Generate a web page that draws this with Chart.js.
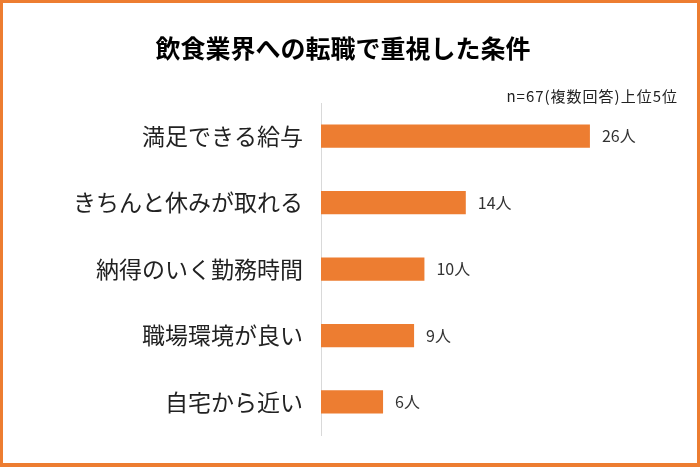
<!DOCTYPE html>
<html><head><meta charset="utf-8">
<script src="https://cdn.jsdelivr.net/npm/chart.js@4/dist/chart.umd.min.js"></script>
<style>
html,body{margin:0;padding:0;background:#fff;}
#wrap{position:relative;width:700px;height:467px;}
#frame{position:absolute;left:0;top:0;width:700px;height:467px;box-sizing:border-box;border:3px solid #ED7D31;border-bottom-width:4px;pointer-events:none;}
</style></head>
<body>
<div id="wrap"><canvas id="c" width="700" height="467"></canvas><div id="frame"></div></div>
<script>
const categories = ["満足できる給与","きちんと休みが取れる","納得のいく勤務時間","職場環境が良い","自宅から近い"];
const values = [26, 14, 10, 9, 6];
const unit = "人";
const titleText = "飲食業界への転職で重視した条件";
const noteText = "n=67(複数回答)上位5位";
const JP = '"Noto Sans CJK JP", "Noto Sans", sans-serif';

const textPlugin = {
  id: 'texts',
  afterDraw(chart) {
    const ctx = chart.ctx;
    ctx.save();
    ctx.fillStyle = '#000';
    ctx.font = 'bold 25px ' + JP;
    ctx.textAlign = 'center';
    ctx.textBaseline = 'middle';
    ctx.fillText(titleText, 343, 48);
    ctx.font = '15px ' + JP;
    ctx.letterSpacing = '1px';
    ctx.textAlign = 'right';
    ctx.fillStyle = '#222';
    ctx.fillText(noteText, 678, 96);
    ctx.letterSpacing = '0px';
    const meta = chart.getDatasetMeta(0);
    ctx.font = '16px ' + JP;
    ctx.textAlign = 'left';
    ctx.fillStyle = '#333';
    meta.data.forEach((bar, i) => {
      ctx.fillText(values[i] + unit, bar.x + 12, bar.y);
    });
    ctx.restore();
  }
};

new Chart(document.getElementById('c'), {
  type: 'bar',
  data: {
    labels: categories,
    datasets: [{
      data: values,
      backgroundColor: '#ED7D31',
      borderWidth: 0,
      barPercentage: 0.7,
      categoryPercentage: 0.5
    }]
  },
  options: {
    indexAxis: 'y',
    responsive: false,
    animation: false,
    devicePixelRatio: 1,
    layout: { padding: { left: 0, right: 17, top: 103, bottom: 24 } },
    plugins: { legend: { display: false }, tooltip: { enabled: false } },
    scales: {
      x: { display: false, min: 0, max: 35 },
      y: {
        grid: { display: false, drawTicks: false },
        border: { display: true, color: '#D9D9D9', width: 1 },
        ticks: { color: '#222', font: { family: JP, size: 23 }, padding: 18 },
        afterFit(scale) { scale.width = 321; }
      }
    }
  },
  plugins: [textPlugin]
});
</script>
</body></html>
